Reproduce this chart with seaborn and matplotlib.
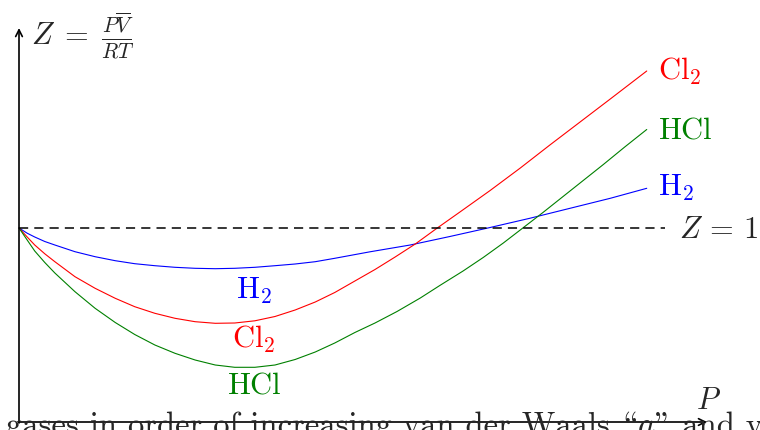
import numpy as np
import pandas as pd
import matplotlib
matplotlib.use("Agg")
import matplotlib.pyplot as plt
import seaborn as sns

# ---- data ----
p_h2 = [0, 0.13, 0.25, 0.41, 0.57, 0.89, 1.21, 1.53, 1.84, 2.16, 2.48, 2.80, 3.12, 3.43, 3.75,
        4.07, 4.39, 4.71, 5.02, 5.58, 6.22, 6.85, 7.49, 8.12, 8.76, 9.40, 9.98]
z_h2 = [1.0, 0.974, 0.955, 0.9325, 0.915, 0.8815, 0.8565, 0.8365, 0.8215, 0.8115, 0.8035,
        0.7985, 0.7965, 0.7985, 0.8035, 0.8115, 0.82, 0.8315, 0.8485, 0.881, 0.915, 0.9575,
        1.0025, 1.0485, 1.0985, 1.1485, 1.1985]
p_cl2 = [0, 0.13, 0.25, 0.41, 0.57, 0.89, 1.21, 1.53, 1.84, 2.16, 2.48, 2.80, 3.12, 3.43, 3.75,
         4.07, 4.39, 4.71, 5.02, 5.34, 5.66, 5.98, 6.30, 6.65, 7.01, 7.49, 7.97, 8.44, 8.92,
         9.40, 9.98]
z_cl2 = [1.0, 0.955, 0.915, 0.871, 0.8315, 0.7565, 0.6985, 0.6485, 0.6065, 0.5735, 0.5485,
         0.5315, 0.5235, 0.525, 0.536, 0.5575, 0.59, 0.63, 0.6775, 0.735, 0.7925, 0.855, 0.92,
         1.0, 1.08, 1.1875, 1.30, 1.415, 1.53, 1.645, 1.785]
p_hcl = [0, 0.13, 0.25, 0.41, 0.57, 0.89, 1.21, 1.53, 1.84, 2.16, 2.48, 2.80, 3.12, 3.43, 3.75,
         4.07, 4.39, 4.71, 5.02, 5.34, 5.66, 6.01, 6.38, 6.69, 7.06, 7.38, 7.70, 8.01, 8.33,
         8.65, 8.97, 9.29, 9.63, 9.98]
z_hcl = [1.0, 0.94, 0.885, 0.8275, 0.775, 0.6815, 0.5985, 0.5275, 0.4675, 0.415, 0.3735, 0.34,
         0.315, 0.3035, 0.3035, 0.315, 0.3425, 0.38, 0.425, 0.4775, 0.525, 0.5825, 0.65,
         0.7125, 0.785, 0.8525, 0.925, 1.0, 1.0775, 1.1575, 1.2375, 1.3175, 1.405, 1.4925]
ideal_z = 1.0
colors = {"H2": "#0000ff", "Cl2": "#ff0000", "HCl": "#008000"}
labels = {"H2": r"$\mathrm{H}_2$", "Cl2": r"$\mathrm{Cl}_2$", "HCl": r"$\mathrm{HCl}$"}
# cmr10 uses TeX OT1 positions: '\\' gives the left double quote, '"' the right one
caption_parts = ["gases in order of increasing van der Waals \\", "$a$", '" and values']

df = pd.concat([
    pd.DataFrame({"P": p_h2, "Z": z_h2, "gas": "H2"}),
    pd.DataFrame({"P": p_cl2, "Z": z_cl2, "gas": "Cl2"}),
    pd.DataFrame({"P": p_hcl, "Z": z_hcl, "gas": "HCl"}),
], ignore_index=True)

sns.set_theme(style="white")
plt.rcParams["mathtext.fontset"] = "cm"
plt.rcParams["font.family"] = ["cmr10", "DejaVu Serif"]
plt.rcParams["axes.formatter.use_mathtext"] = True

fig = plt.figure(figsize=(7.6, 4.3), dpi=100)
ax = fig.add_axes([0, 0, 1, 1])
SX, SY = 62.9, 200.0
ax.set_xlim(-19 / SX, (760 - 19) / SX)
ax.set_ylim(1 - 202 / SY, 1 + 228 / SY)
ax.axis("off")

def X(px):
    return (px - 19) / SX

def Y(py):
    return 1 + (228 - py) / SY

sns.lineplot(data=df, x="P", y="Z", hue="gas", palette=colors,
             estimator=None, sort=False, lw=0.8, legend=False, ax=ax)

# ideal gas line
ax.plot([0, X(665)], [ideal_z, ideal_z], color="black", lw=1.1, dashes=(6.0, 4.0))

# axes with arrows
arrow = dict(arrowstyle="->", lw=1.2, color="black", shrinkA=0, shrinkB=0, mutation_scale=12)
ax.annotate("", xy=(X(19), Y(28)), xytext=(X(19), Y(423)), arrowprops=arrow)
ax.annotate("", xy=(X(707), Y(422)), xytext=(X(18.4), Y(422)), arrowprops=arrow)

fs = 22
ax.text(X(31), Y(36), r"$Z\;=\;\frac{P\overline{V}}{RT}$", fontsize=22, ha="left", va="center")
ax.text(X(708), Y(401), r"$P$", fontsize=fs, ha="center", va="center")
ax.text(X(679), Y(230), r"$Z\,=\,1$", fontsize=fs, ha="left", va="center")

ax.text(X(658), Y(71), labels["Cl2"], color=colors["Cl2"], fontsize=fs, ha="left", va="center")
ax.text(X(658), Y(131), labels["HCl"], color=colors["HCl"], fontsize=fs, ha="left", va="center")
ax.text(X(658), Y(188), labels["H2"], color=colors["H2"], fontsize=fs, ha="left", va="center")

ax.text(X(254), Y(291), labels["H2"], color=colors["H2"], fontsize=fs, ha="center", va="center")
ax.text(X(254), Y(339), labels["Cl2"], color=colors["Cl2"], fontsize=fs, ha="center", va="center")
ax.text(X(254), Y(386), labels["HCl"], color=colors["HCl"], fontsize=fs, ha="center", va="center")

# caption (cut off by the bottom edge, as in the reference)
y_cap = Y(435)
prev = ax.text(X(6), y_cap, caption_parts[0], fontsize=23.5, ha="left", va="baseline")
for part in caption_parts[1:]:
    prev = ax.annotate(part, xy=(1, y_cap), xycoords=(prev, "data"), fontsize=23.5,
                       ha="left", va="baseline", annotation_clip=False)

fig.savefig("out.png", dpi=100)
